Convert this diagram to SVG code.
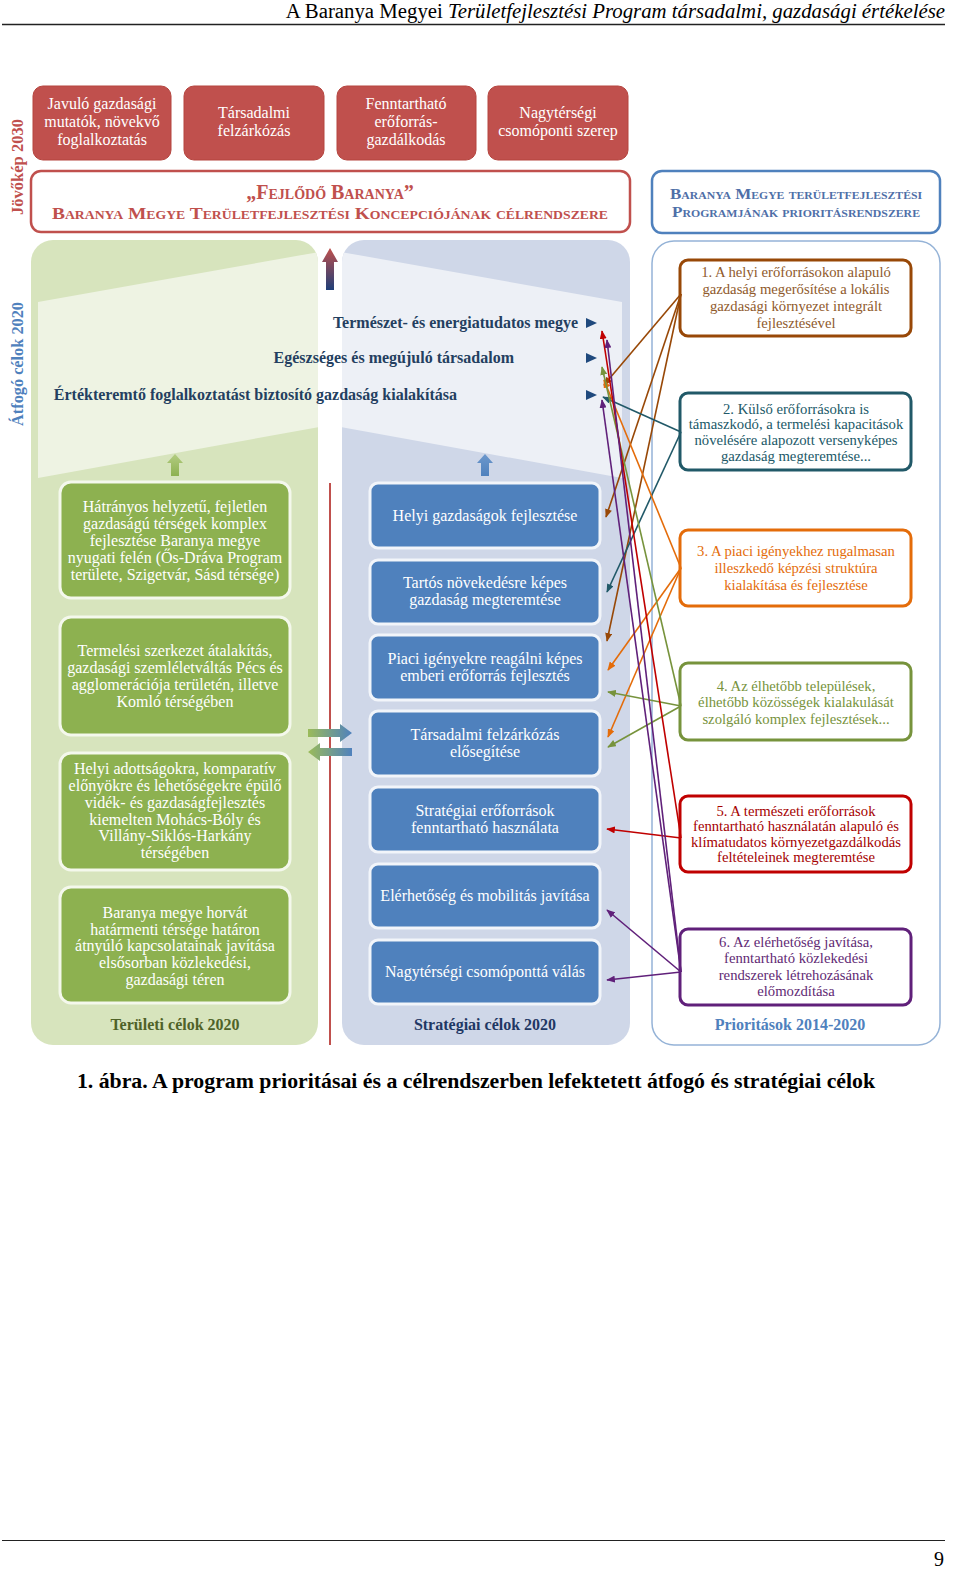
<svg xmlns="http://www.w3.org/2000/svg" width="960" height="1584" viewBox="0 0 960 1584">
<style>
.ser{font-family:"Liberation Serif","Times New Roman",serif}
.rb{fill:#c0504d;stroke:#b5453f;stroke-width:1}
.rt{font-family:"Liberation Serif",serif;font-size:16px;fill:#fff;text-anchor:middle}
.gb{fill:#8db150;stroke:#f4f8ec;stroke-width:3}
.gt{font-family:"Liberation Serif",serif;font-size:16px;fill:#fff;text-anchor:middle}
.bb{fill:#4f81bd;stroke:#f2f5fa;stroke-width:3}
.bt{font-family:"Liberation Serif",serif;font-size:16px;fill:#fff;text-anchor:middle}
.pb{fill:#fff;stroke-width:3}
.pt{font-family:"Liberation Serif",serif;font-size:14.7px;text-anchor:middle}
.og{font-family:"Liberation Serif",serif;font-size:16px;font-weight:bold;fill:#243f60;text-anchor:end}
.tri{fill:#1f497d}
.c{fill:none;stroke-width:1.6}
</style>
<defs>
<marker id="mBr" viewBox="0 0 10 8" refX="9" refY="4" markerWidth="9" markerHeight="7" markerUnits="userSpaceOnUse" orient="auto"><path d="M0,0 L10,4 L0,8 z" fill="#984807"/></marker>
<marker id="mTe" viewBox="0 0 10 8" refX="9" refY="4" markerWidth="9" markerHeight="7" markerUnits="userSpaceOnUse" orient="auto"><path d="M0,0 L10,4 L0,8 z" fill="#215968"/></marker>
<marker id="mOr" viewBox="0 0 10 8" refX="9" refY="4" markerWidth="9" markerHeight="7" markerUnits="userSpaceOnUse" orient="auto"><path d="M0,0 L10,4 L0,8 z" fill="#e46c0a"/></marker>
<marker id="mGr" viewBox="0 0 10 8" refX="9" refY="4" markerWidth="9" markerHeight="7" markerUnits="userSpaceOnUse" orient="auto"><path d="M0,0 L10,4 L0,8 z" fill="#77933c"/></marker>
<marker id="mRe" viewBox="0 0 10 8" refX="9" refY="4" markerWidth="9" markerHeight="7" markerUnits="userSpaceOnUse" orient="auto"><path d="M0,0 L10,4 L0,8 z" fill="#c00000"/></marker>
<marker id="mPu" viewBox="0 0 10 8" refX="9" refY="4" markerWidth="9" markerHeight="7" markerUnits="userSpaceOnUse" orient="auto"><path d="M0,0 L10,4 L0,8 z" fill="#60207a"/></marker>
<linearGradient id="gRB" x1="0" y1="0" x2="0" y2="1"><stop offset="0" stop-color="#c0504d"/><stop offset="1" stop-color="#1f3f78"/></linearGradient>
<linearGradient id="gG" x1="0" y1="0" x2="0" y2="1"><stop offset="0" stop-color="#b3cc82"/><stop offset="1" stop-color="#8db150"/></linearGradient>
<linearGradient id="gB" x1="0" y1="0" x2="0" y2="1"><stop offset="0" stop-color="#6d98cc"/><stop offset="1" stop-color="#4f81bd"/></linearGradient>
<linearGradient id="gGB" x1="0" y1="0" x2="1" y2="0"><stop offset="0" stop-color="#9bbb59"/><stop offset="1" stop-color="#4f81bd"/></linearGradient>
<clipPath id="cpG"><rect x="31" y="240" width="287" height="805" rx="22"/></clipPath>
<clipPath id="cpB"><rect x="342" y="240" width="288" height="805" rx="22"/></clipPath>
</defs>

<!-- page header -->
<g id="header">
<text x="945" y="18" class="ser" font-size="20.8" text-anchor="end" fill="#000">A Baranya Megyei <tspan font-style="italic">Területfejlesztési Program társadalmi, gazdasági értékelése</tspan></text>
<line x1="2" y1="24.5" x2="945" y2="24.5" stroke="#222" stroke-width="1.5"/>
</g>

<!-- vertical labels -->
<text transform="translate(23,167) rotate(-90)" class="ser" font-size="16.5" font-weight="bold" fill="#c0504d" text-anchor="middle">Jövőkép 2030</text>
<text transform="translate(23,364) rotate(-90)" class="ser" font-size="16.3" font-weight="bold" fill="#4f81bd" text-anchor="middle">Átfogó célok 2020</text>

<!-- vision boxes -->
<g id="v1"><rect class="rb" x="33" y="86" width="138" height="74" rx="10"/>
<text class="rt" x="102" y="109">Javuló gazdasági</text><text class="rt" x="102" y="127">mutatók, növekvő</text><text class="rt" x="102" y="145">foglalkoztatás</text></g>
<g id="v2"><rect class="rb" x="184" y="86" width="140" height="74" rx="10"/>
<text class="rt" x="254" y="118">Társadalmi</text><text class="rt" x="254" y="136">felzárkózás</text></g>
<g id="v3"><rect class="rb" x="337" y="86" width="139" height="74" rx="10"/>
<text class="rt" x="406" y="109">Fenntartható</text><text class="rt" x="406" y="127">erőforrás-</text><text class="rt" x="406" y="145">gazdálkodás</text></g>
<g id="v4"><rect class="rb" x="488" y="86" width="140" height="74" rx="10"/>
<text class="rt" x="558" y="118">Nagytérségi</text><text class="rt" x="558" y="136">csomóponti szerep</text></g>

<g id="concept"><rect x="31" y="171" width="599" height="61" rx="10" fill="#fff" stroke="#c0504d" stroke-width="2.5"/>
<text x="330" y="199" class="ser" font-size="20" font-weight="bold" fill="#c0504d" text-anchor="middle" style="font-variant:small-caps">„Fejlődő Baranya”</text>
<text x="330" y="219" class="ser" font-size="17" font-weight="bold" fill="#c0504d" text-anchor="middle" style="font-variant:small-caps" textLength="556" lengthAdjust="spacingAndGlyphs">Baranya Megye Területfejlesztési Koncepciójának célrendszere</text></g>

<g id="progheader"><rect x="652" y="171" width="288" height="62" rx="10" fill="#fff" stroke="#4f81bd" stroke-width="2.5"/>
<text x="796" y="199" class="ser" font-size="14.5" font-weight="bold" fill="#4f6fa8" text-anchor="middle" style="font-variant:small-caps" textLength="252" lengthAdjust="spacingAndGlyphs">Baranya Megye területfejlesztési</text>
<text x="796" y="217" class="ser" font-size="14.5" font-weight="bold" fill="#4f6fa8" text-anchor="middle" style="font-variant:small-caps" textLength="248" lengthAdjust="spacingAndGlyphs">Programjának prioritásrendszere</text></g>

<!-- panels -->
<g id="panelG">
<rect x="31" y="240" width="287" height="805" rx="22" fill="#d7e4bd"/>
<polygon clip-path="url(#cpG)" points="38,302 330,250 330,425 38,478" fill="#eef3e3"/>
</g>
<g id="panelB">
<rect x="342" y="240" width="288" height="805" rx="22" fill="#cfd7e8"/>
<polygon clip-path="url(#cpB)" points="330,250 622,302 622,478 330,425" fill="#edf0f6"/>
</g>
<g id="panelP"><rect x="652" y="241" width="288" height="804" rx="22" fill="#fff" stroke="#95b3d7" stroke-width="1.5"/></g>

<!-- arrows in middle -->
<g id="midarrows">
<polygon points="330,248 338,262 334,262 334,290 326,290 326,262 322,262" fill="url(#gRB)"/>
<polygon points="175,454 183,463 179,463 179,476 171,476 171,463 167,463" fill="url(#gG)"/>
<polygon points="485,454 493,463 489,463 489,476 481,476 481,463 477,463" fill="url(#gB)"/>
<line x1="330" y1="483" x2="330" y2="1045" stroke="#c0504d" stroke-width="2"/>
<polygon points="308,729 340,729 340,724 352,733 340,742 340,737 308,737" fill="url(#gGB)"/>
<polygon points="352,748 320,748 320,743 308,752 320,761 320,756 352,756" fill="url(#gGB)"/>
</g>

<!-- overarching goals -->
<g id="og1"><text class="og" x="578" y="328">Természet- és energiatudatos megye</text><polygon class="tri" points="586,318 597,323 586,328"/></g>
<g id="og2"><text class="og" x="514" y="363">Egészséges és megújuló társadalom</text><polygon class="tri" points="586,353 597,358 586,363"/></g>
<g id="og3"><text class="og" x="457" y="400">Értékteremtő foglalkoztatást biztosító gazdaság kialakítása</text><polygon class="tri" points="586,390 597,395 586,400"/></g>

<!-- territorial goals -->
<g id="t1"><rect class="gb" x="60" y="482" width="230" height="116" rx="11"/>
<text class="gt" x="175" y="512">Hátrányos helyzetű, fejletlen</text><text class="gt" x="175" y="529">gazdaságú térségek komplex</text><text class="gt" x="175" y="546">fejlesztése Baranya megye</text><text class="gt" x="175" y="563">nyugati felén (Ős-Dráva Program</text><text class="gt" x="175" y="580">területe, Szigetvár, Sásd térsége)</text></g>
<g id="t2"><rect class="gb" x="60" y="617" width="230" height="118" rx="11"/>
<text class="gt" x="175" y="656">Termelési szerkezet átalakítás,</text><text class="gt" x="175" y="673">gazdasági szemléletváltás Pécs és</text><text class="gt" x="175" y="690">agglomerációja területén, illetve</text><text class="gt" x="175" y="707">Komló térségében</text></g>
<g id="t3"><rect class="gb" x="60" y="753" width="230" height="117" rx="11"/>
<text class="gt" x="175" y="774">Helyi adottságokra, komparatív</text><text class="gt" x="175" y="791">előnyökre és lehetőségekre épülő</text><text class="gt" x="175" y="808">vidék- és gazdaságfejlesztés</text><text class="gt" x="175" y="825">kiemelten Mohács-Bóly és</text><text class="gt" x="175" y="841">Villány-Siklós-Harkány</text><text class="gt" x="175" y="858">térségében</text></g>
<g id="t4"><rect class="gb" x="60" y="887" width="230" height="116" rx="11"/>
<text class="gt" x="175" y="918">Baranya megye horvát</text><text class="gt" x="175" y="935">határmenti térsége határon</text><text class="gt" x="175" y="951">átnyúló kapcsolatainak javítása</text><text class="gt" x="175" y="968">elsősorban közlekedési,</text><text class="gt" x="175" y="985">gazdasági téren</text></g>
<text x="175" y="1030" class="ser" font-size="16" font-weight="bold" fill="#4f6228" text-anchor="middle">Területi célok 2020</text>

<!-- strategic goals -->
<g id="s1"><rect class="bb" x="370" y="483" width="230" height="65" rx="8"/><text class="bt" x="485" y="521">Helyi gazdaságok fejlesztése</text></g>
<g id="s2"><rect class="bb" x="370" y="560" width="230" height="64" rx="8"/><text class="bt" x="485" y="588">Tartós növekedésre képes</text><text class="bt" x="485" y="605">gazdaság megteremtése</text></g>
<g id="s3"><rect class="bb" x="370" y="635" width="230" height="65" rx="8"/><text class="bt" x="485" y="664">Piaci igényekre reagálni képes</text><text class="bt" x="485" y="681">emberi erőforrás fejlesztés</text></g>
<g id="s4"><rect class="bb" x="370" y="711" width="230" height="65" rx="8"/><text class="bt" x="485" y="740">Társadalmi felzárkózás</text><text class="bt" x="485" y="757">elősegítése</text></g>
<g id="s5"><rect class="bb" x="370" y="787" width="230" height="65" rx="8"/><text class="bt" x="485" y="816">Stratégiai erőforrások</text><text class="bt" x="485" y="833">fenntartható használata</text></g>
<g id="s6"><rect class="bb" x="370" y="864" width="230" height="64" rx="8"/><text class="bt" x="485" y="901">Elérhetőség és mobilitás javítása</text></g>
<g id="s7"><rect class="bb" x="370" y="940" width="230" height="64" rx="8"/><text class="bt" x="485" y="977">Nagytérségi csomóponttá válás</text></g>
<text x="485" y="1030" class="ser" font-size="16" font-weight="bold" fill="#1f3864" text-anchor="middle">Stratégiai célok 2020</text>

<!-- priorities -->
<g id="p1"><rect class="pb" x="680" y="260" width="231" height="76" rx="8" stroke="#984807"/>
<text class="pt" fill="#8f5a2c" x="796" y="277">1. A helyi erőforrásokon alapuló</text><text class="pt" fill="#8f5a2c" x="796" y="294">gazdaság megerősítése a lokális</text><text class="pt" fill="#8f5a2c" x="796" y="311">gazdasági környezet integrált</text><text class="pt" fill="#8f5a2c" x="796" y="328">fejlesztésével</text></g>
<g id="p2"><rect class="pb" x="680" y="393" width="231" height="77" rx="8" stroke="#215968"/>
<text class="pt" fill="#215968" x="796" y="414">2. Külső erőforrásokra is</text><text class="pt" fill="#215968" x="796" y="429">támaszkodó, a termelési kapacitások</text><text class="pt" fill="#215968" x="796" y="445">növelésére alapozott versenyképes</text><text class="pt" fill="#215968" x="796" y="461">gazdaság megteremtése...</text></g>
<g id="p3"><rect class="pb" x="680" y="530" width="231" height="76" rx="8" stroke="#e46c0a"/>
<text class="pt" fill="#e46c0a" x="796" y="556">3. A piaci igényekhez rugalmasan</text><text class="pt" fill="#e46c0a" x="796" y="573">illeszkedő képzési struktúra</text><text class="pt" fill="#e46c0a" x="796" y="590">kialakítása és fejlesztése</text></g>
<g id="p4"><rect class="pb" x="680" y="663" width="231" height="77" rx="8" stroke="#77933c"/>
<text class="pt" fill="#77933c" x="796" y="691">4. Az élhetőbb települések,</text><text class="pt" fill="#77933c" x="796" y="707">élhetőbb közösségek kialakulását</text><text class="pt" fill="#77933c" x="796" y="724">szolgáló komplex fejlesztések...</text></g>
<g id="p5"><rect class="pb" x="680" y="796" width="231" height="76" rx="8" stroke="#c00000"/>
<text class="pt" fill="#a50000" x="796" y="816">5. A természeti erőforrások</text><text class="pt" fill="#a50000" x="796" y="831">fenntartható használatán alapuló és</text><text class="pt" fill="#a50000" x="796" y="847">klímatudatos környezetgazdálkodás</text><text class="pt" fill="#a50000" x="796" y="862">feltételeinek megteremtése</text></g>
<g id="p6"><rect class="pb" x="680" y="929" width="231" height="76" rx="8" stroke="#60207a"/>
<text class="pt" fill="#5f2a74" x="796" y="947">6. Az elérhetőség javítása,</text><text class="pt" fill="#5f2a74" x="796" y="963">fenntartható közlekedési</text><text class="pt" fill="#5f2a74" x="796" y="980">rendszerek létrehozásának</text><text class="pt" fill="#5f2a74" x="796" y="996">előmozdítása</text></g>
<text x="790" y="1030" class="ser" font-size="16" font-weight="bold" fill="#4f81bd" text-anchor="middle">Prioritások 2014-2020</text>

<!-- connectors -->
<g id="connectors">
<line class="c" stroke="#984807" marker-end="url(#mBr)" x1="681" y1="294" x2="604" y2="385"/>
<line class="c" stroke="#984807" marker-end="url(#mBr)" x1="681" y1="294" x2="606" y2="517"/>
<line class="c" stroke="#984807" marker-end="url(#mBr)" x1="681" y1="294" x2="607" y2="641"/>
<line class="c" stroke="#215968" marker-end="url(#mTe)" x1="681" y1="432" x2="603" y2="397"/>
<line class="c" stroke="#215968" marker-end="url(#mTe)" x1="681" y1="432" x2="607" y2="592"/>
<line class="c" stroke="#e46c0a" marker-end="url(#mOr)" x1="681" y1="568" x2="604" y2="380"/>
<line class="c" stroke="#e46c0a" marker-end="url(#mOr)" x1="681" y1="568" x2="608" y2="670"/>
<line class="c" stroke="#e46c0a" marker-end="url(#mOr)" x1="681" y1="568" x2="608" y2="737"/>
<line class="c" stroke="#77933c" marker-end="url(#mGr)" x1="681" y1="706" x2="602" y2="367"/>
<line class="c" stroke="#77933c" marker-end="url(#mGr)" x1="681" y1="706" x2="608" y2="692"/>
<line class="c" stroke="#77933c" marker-end="url(#mGr)" x1="681" y1="706" x2="608" y2="747"/>
<line class="c" stroke="#c00000" marker-end="url(#mRe)" x1="681" y1="838" x2="602" y2="331"/>
<line class="c" stroke="#c00000" marker-end="url(#mRe)" x1="681" y1="838" x2="607" y2="829"/>
<line class="c" stroke="#60207a" marker-end="url(#mPu)" x1="681" y1="972" x2="607" y2="340"/>
<line class="c" stroke="#60207a" marker-end="url(#mPu)" x1="681" y1="972" x2="602" y2="400"/>
<line class="c" stroke="#60207a" marker-end="url(#mPu)" x1="681" y1="972" x2="607" y2="910"/>
<line class="c" stroke="#60207a" marker-end="url(#mPu)" x1="681" y1="972" x2="607" y2="980"/>
</g>

<!-- caption & footer -->
<text x="476" y="1088" class="ser" font-size="21.8" font-weight="bold" fill="#000" text-anchor="middle">1. ábra. A program prioritásai és a célrendszerben lefektetett átfogó és stratégiai célok</text>
<line x1="2" y1="1540.5" x2="945" y2="1540.5" stroke="#222" stroke-width="1.2"/>
<text x="944" y="1566" class="ser" font-size="20" fill="#000" text-anchor="end">9</text>
</svg>
